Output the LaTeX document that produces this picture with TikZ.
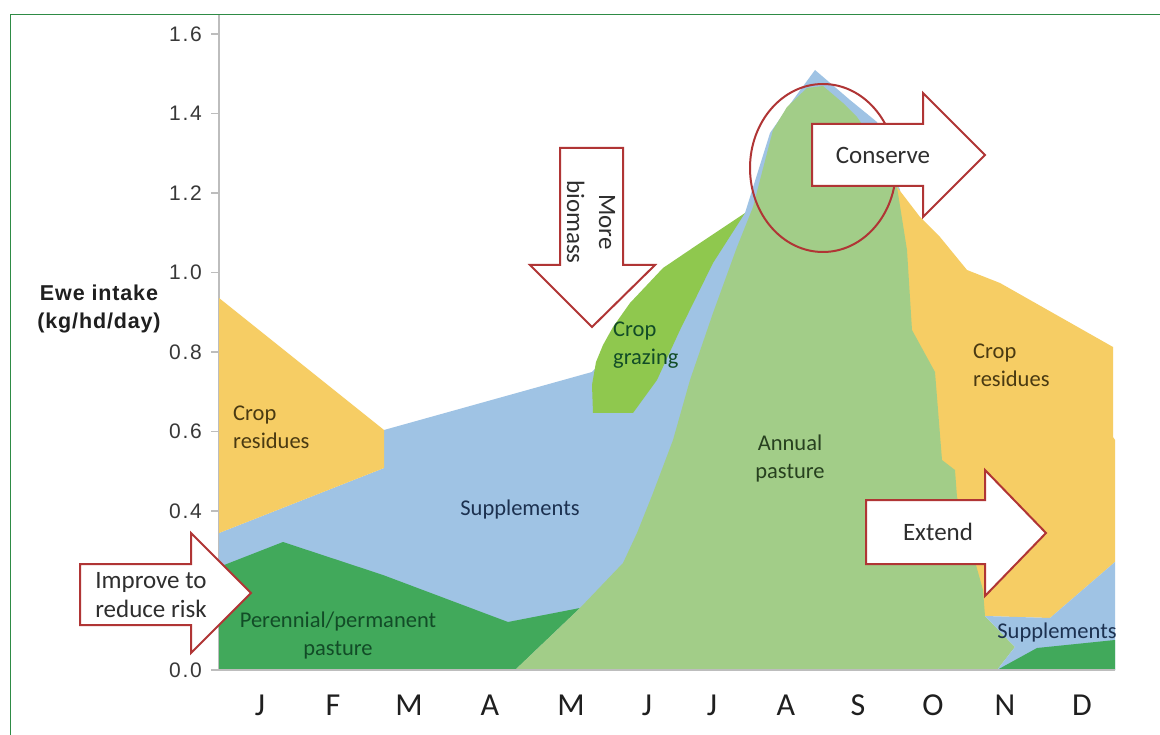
\documentclass[tikz,border=0pt]{standalone}
\usepackage{fontspec}
\setmainfont{Carlito}
\newfontfamily\tickfont[LetterSpace=8]{Liberation Sans}
\newfontfamily\ylabfont[LetterSpace=4]{Liberation Sans}
\definecolor{bordergreen}{HTML}{2E8B45}
\definecolor{axisgray}{HTML}{BDBDBD}
\definecolor{cyellow}{HTML}{F6CD64}
\definecolor{cblue}{HTML}{9FC3E4}
\definecolor{cdgreen}{HTML}{41A95B}
\definecolor{cannual}{HTML}{A2CD88}
\definecolor{cgraze}{HTML}{8FC84E}
\definecolor{arrowred}{HTML}{B03535}
\definecolor{tbrown}{HTML}{4A3A12}
\definecolor{tnavy}{HTML}{1C3150}
\definecolor{tdgreen}{HTML}{124C27}
\definecolor{tannual}{HTML}{27401F}
\definecolor{tgray}{HTML}{2E2E2E}
\begin{document}
\begin{tikzpicture}[x=1pt,y=-1pt,
  arrowshape/.style={draw=arrowred, line width=2pt, fill=white, line join=miter},
  regionlbl/.style={inner sep=0pt, font=\fontsize{22.5}{28}\selectfont},
  arrowlbl/.style={inner sep=0pt, text=tgray, font=\fontsize{25}{29.5}\selectfont, align=center},
  ticklbl/.style={inner sep=0pt, anchor=east, text=black!78, font=\tickfont\fontsize{21}{24}\selectfont},
  monthlbl/.style={inner sep=0pt, text=black!88, font=\fontsize{32}{36}\selectfont}]
\useasboundingbox (0,0) rectangle (1160,735);
\clip (0,0) rectangle (1160,735);
\fill[white] (0,0) rectangle (1160,735);
\draw[bordergreen, line width=1.5pt] (10.5,14.5) rectangle (1200,800);

% axis
\draw[axisgray, line width=1.5pt] (219,15) -- (219,670);
\foreach \yy in {670,590.5,511,431.5,352,272.5,193,113.5,34}
  \draw[axisgray, line width=1.2pt] (211,\yy) -- (219,\yy);

% regions
\fill[cblue] (219,533) -- (384,468) -- (384,430) -- (592,372) -- (640,320) -- (745,213)
  -- (770,133) -- (793,100) -- (815,70) -- (850,100) -- (877,122) -- (900,190)
  -- (930,670) -- (219,670) -- cycle;
\fill[cyellow] (219,298) -- (384,430) -- (384,468) -- (219,533) -- cycle;
\fill[cyellow] (897,187) -- (920,217) -- (940,237) -- (967,270) -- (1000,283) -- (1113,347)
  -- (1113,437) -- (1115,440) -- (1115,562) -- (1050,618) -- (985,616) -- (940,500) -- (900,300) -- cycle;
\fill[cdgreen] (219,670) -- (219,567) -- (283,542) -- (383,575) -- (508,622) -- (580,608)
  -- (515,670) -- cycle;
\fill[cannual] (515,670) -- (580,608) -- (623,563) -- (637,533) -- (653,493) -- (673,440)
  -- (690,380) -- (713,313) -- (737,247) -- (753,207) -- (773,130) -- (787,107) -- (807,88)
  -- (823,86) -- (843,103) -- (857,117) -- (880,150) -- (897,187) -- (907,250) -- (912,330)
  -- (935,372) -- (942,460) -- (955,470) -- (957,497) -- (983,590) -- (985,616)
  -- (1015,647) -- (997,670) -- cycle;
\fill[cgraze] (593,413) -- (592,385) -- (596,362) -- (603,345) -- (613,327) -- (630,303) -- (663,268)
  -- (700,243) -- (745,213) -- (713,263) -- (680,330) -- (657,380) -- (633,413) -- cycle;
\fill[cblue] (985,616) -- (1050,618) -- (1115,562) -- (1115,670) -- (997,670) -- (1015,647) -- cycle;
\fill[cdgreen] (997,670) -- (1037,648) -- (1115,640) -- (1115,670) -- cycle;
\draw[axisgray, line width=1.2pt] (212,670) -- (1115,670);

% tick labels
\foreach \lab/\yy [count=\i] in {0.0/670,0.4/511,0.6/431.5,0.8/352,1.0/272.5,1.2/193,1.4/113.5,1.6/34}
  \node[ticklbl] (tick\i) at (202,\yy) {\lab};

% y label
\node[inner sep=0pt, align=center, text=black!88, font=\ylabfont\bfseries\fontsize{21.5}{28}\selectfont]
  (ylabel) at (99,309) {Ewe intake\\(kg/hd/day)};

% months
\foreach \m/\xx [count=\i] in {J/260,F/333,M/409,A/490,M/571,J/647,J/712,A/786,S/858,O/933,N/1005,D/1082}
  \node[monthlbl] (month\i) at (\xx,705) {\m};

% region labels
\node[regionlbl, text=tbrown, anchor=west, align=left] (cropresL) at (233,427) {Crop\\residues};
\node[regionlbl, text=tnavy] (suppL) at (520,510) {Supplements};
\node[regionlbl, text=tdgreen, align=center] (perennial) at (338,635) {Perennial/permanent\\pasture};
\node[regionlbl, text=tdgreen, anchor=west, align=left] (grazing) at (613,345) {Crop\\grazing};
\node[regionlbl, text=tannual, align=center] (annual) at (790,459) {Annual\\pasture};
\node[regionlbl, text=tbrown, anchor=west, align=left] (cropresR) at (973,365) {Crop\\residues};
\node[regionlbl, text=tnavy] (suppR) at (1057,632) {Supplements};

% arrows
\draw[arrowshape] (80,564) -- (191,564) -- (191,533) -- (251,593) -- (191,653) -- (191,625) -- (80,625) -- cycle;
\node[arrowlbl] (improve) at (151,595) {Improve to\\reduce risk};

\draw[arrowshape] (560,148) -- (623,148) -- (623,265) -- (655,265) -- (592,327) -- (530,265) -- (560,265) -- cycle;
\node[arrowlbl, rotate=-90, font=\fontsize{25}{32}\selectfont] (biomass) at (591,222) {More\\biomass};

\draw[arrowred, line width=2pt] (823,168) ellipse [x radius=73, y radius=84];

\draw[arrowshape] (812,124) -- (923,124) -- (923,93) -- (985,155) -- (923,217) -- (923,186) -- (812,186) -- cycle;
\node[arrowlbl] (conserve) at (883,155) {Conserve};

\draw[arrowshape] (866,500) -- (985,500) -- (985,470) -- (1046,533) -- (985,596) -- (985,564) -- (866,564) -- cycle;
\node[arrowlbl] (extend) at (938,532) {Extend};
\end{tikzpicture}
\end{document}
